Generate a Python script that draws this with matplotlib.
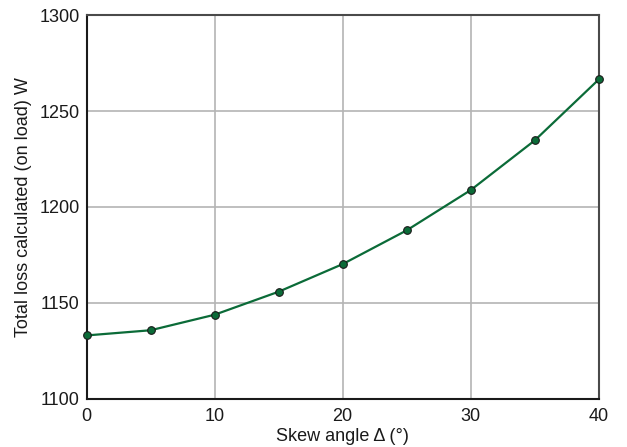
import matplotlib.pyplot as plt

plt.rcParams['font.family'] = ['Liberation Sans', 'DejaVu Sans']

# skew angle (deg) and total loss (W)
skew = [0, 5, 10, 15, 20, 25, 30, 35, 40]
loss = [1133.0, 1135.7, 1143.8, 1155.8, 1170.2, 1187.8, 1208.8, 1234.7, 1266.5]

xticks = [0, 10, 20, 30, 40]
yticks = [1100, 1150, 1200, 1250, 1300]

fig = plt.figure(figsize=(6.27, 4.47), dpi=100)
ax = fig.add_axes([0.138, 0.108, 0.817, 0.858])

ax.plot(skew, loss, '-', color='#0b6b38', lw=1.6, marker='o', ms=5.5,
        mfc='#0b6b38', mec='#1a1a1a', mew=0.8, zorder=3, clip_on=False)

ax.set_xlim(0, 40)
ax.set_ylim(1100, 1300)
ax.set_xticks(xticks)
ax.set_yticks(yticks)
ax.grid(True, color='#b4b4b4', lw=1.2)
ax.tick_params(length=0, labelsize=13, colors='#1a1a1a')
ax.tick_params(axis='x', pad=7)
ax.tick_params(axis='y', pad=5)

for side in ['left', 'bottom']:
    ax.spines[side].set_color('#1a1a1a')
    ax.spines[side].set_linewidth(1.5)
for side in ['top', 'right']:
    ax.spines[side].set_color('#4a4a4a')
    ax.spines[side].set_linewidth(1.5)

ax.set_xlabel('Skew angle Δ (°)', fontsize=13, color='#1a1a1a', labelpad=2)
ax.set_ylabel('Total loss calculated (on load) W', fontsize=13, color='#1a1a1a', labelpad=5)

fig.savefig('out.png', dpi=100)
